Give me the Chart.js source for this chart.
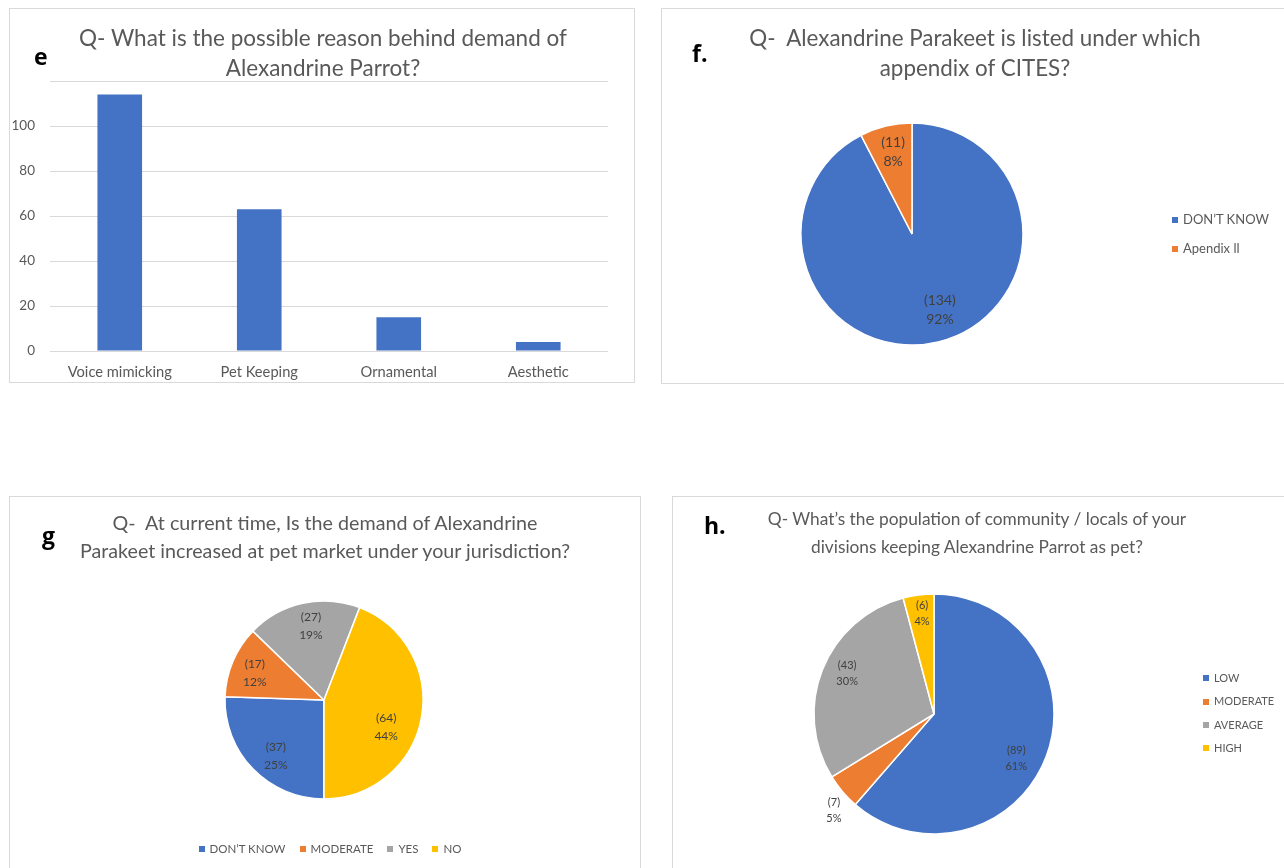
<!DOCTYPE html>
<html>
<head>
<meta charset="utf-8">
<script src="https://cdn.jsdelivr.net/npm/chart.js@4.4.1/dist/chart.umd.min.js"></script>
<style>
  body { margin: 0; width: 1284px; height: 868px; background: #fff; position: relative; overflow: hidden;
         font-family: Lato, "Open Sans", sans-serif; }
  .panel { position: absolute; border: 1px solid #d9d9d9; box-sizing: border-box; overflow: hidden; }
  canvas { position: absolute; }
  .title { position: absolute; width: 800px; text-align: center; color: #595959; white-space: pre; }
  .tag { position: absolute; font-weight: bold; color: #000; font-family: "Open Sans", Lato, sans-serif; }
  .legend { position: absolute; color: #595959; white-space: nowrap; }
  .legend .sw { display: inline-block; width: 6px; height: 6px; margin-right: 5px; vertical-align: middle; position: relative; top: -1px; }
</style>
</head>
<body>

<div class="panel" style="left:9px;top:8px;width:626px;height:375px"></div>
<div class="panel" style="left:661px;top:8px;width:640px;height:376px"></div>
<div class="panel" style="left:9px;top:496px;width:632px;height:390px"></div>
<div class="panel" style="left:672px;top:496px;width:640px;height:390px"></div>

<canvas id="chartE" width="626" height="375" style="left:9px;top:8px"></canvas>
<canvas id="chartF" width="623" height="376" style="left:661px;top:8px"></canvas>
<canvas id="chartG" width="632" height="372" style="left:9px;top:496px"></canvas>
<canvas id="chartH" width="612" height="372" style="left:672px;top:496px"></canvas>

<div class="title" style="left:-77px;top:23px;font-size:22.5px;line-height:30px">Q- What is the possible reason behind demand of
Alexandrine Parrot?</div>
<div class="title" style="left:575px;top:23px;font-size:22.4px;line-height:30px">Q-  Alexandrine Parakeet is listed under which
appendix of CITES?</div>
<div class="title" style="left:-75px;top:509px;font-size:19.7px;line-height:28px">Q-  At current time, Is the demand of Alexandrine
Parakeet increased at pet market under your jurisdiction?</div>
<div class="title" style="left:577px;top:505px;font-size:17.3px;line-height:28px">Q- What’s the population of community / locals of your
divisions keeping Alexandrine Parrot as pet?</div>

<div class="tag" style="left:34px;top:40px;font-size:23px">e</div>
<div class="tag" style="left:692px;top:37px;font-size:23px">f.</div>
<div class="tag" style="left:42px;top:519px;font-size:23px">g</div>
<div class="tag" style="left:704px;top:509px;font-size:23px">h.</div>

<div id="legendF" class="legend" style="left:1172px;top:205px;font-size:13px;line-height:29px"></div>
<div id="legendG" class="legend" style="left:5px;width:650px;text-align:center;top:840px;font-size:11.5px;line-height:18px"></div>
<div id="legendH" class="legend" style="left:1203px;top:666px;font-size:11px;line-height:23.3px"></div>

<script>
// Panel e: reasons behind demand
const reasonLabels = ["Voice mimicking", "Pet Keeping", "Ornamental", "Aesthetic"];
const reasonCounts = [114, 63, 15, 4];

// Panel f: CITES appendix awareness
const citesLabels = ["DON’T KNOW", "Apendix ll"];
const citesCounts = [134, 11];
const citesPercents = ["92%", "8%"];

// Panel g: demand increase at pet market
const demandLabels = ["DON’T KNOW", "MODERATE", "YES", "NO"];
const demandCounts = [37, 17, 27, 64];
const demandPercents = ["25%", "12%", "19%", "44%"];

// Panel h: population keeping the parrot as pet
const keepLabels = ["LOW", "MODERATE", "AVERAGE", "HIGH"];
const keepCounts = [89, 7, 43, 6];
const keepPercents = ["61%", "5%", "30%", "4%"];

const BLUE = "#4472C4", ORANGE = "#ED7D31", GRAY = "#A5A5A5", GOLD = "#FFC000";
const FONT = "Lato, 'Open Sans', sans-serif";

// Writes "(count)" and "pct" inside or beside each slice
const sliceLabels = {
  id: "sliceLabels",
  afterDatasetsDraw(chart, args, opts) {
    const ctx = chart.ctx;
    const meta = chart.getDatasetMeta(0);
    const values = chart.data.datasets[0].data;
    ctx.save();
    ctx.font = opts.size + "px " + FONT;
    ctx.fillStyle = opts.color || "#404040";
    ctx.textAlign = "center";
    ctx.textBaseline = "middle";
    meta.data.forEach((arc, i) => {
      const p = arc.getProps(["x", "y", "startAngle", "endAngle", "outerRadius"], true);
      const shift = (opts.shift ? opts.shift[i] : 0) * Math.PI / 180;
      const mid = (p.startAngle + p.endAngle) / 2 + shift;
      const rf = Array.isArray(opts.radius) ? opts.radius[i] : opts.radius;
      const r = p.outerRadius * rf;
      const cx = p.x + Math.cos(mid) * r;
      const cy = p.y + Math.sin(mid) * r;
      ctx.fillText("(" + values[i] + ")", cx, cy - opts.gap / 2);
      ctx.fillText(opts.percents[i], cx, cy + opts.gap / 2);
    });
    ctx.restore();
  }
};

function pieChart(id, labels, counts, percents, colors, geo, labelOpts) {
  const cv = document.getElementById(id);
  const bw = 1.5;
  const pad = {
    left: geo.cx - geo.r - bw / 2,
    top: geo.cy - geo.r - bw / 2,
    right: cv.width - geo.cx - geo.r - bw / 2,
    bottom: cv.height - geo.cy - geo.r - bw / 2
  };
  return new Chart(cv, {
    type: "pie",
    data: { labels: labels, datasets: [{ data: counts, backgroundColor: colors, borderColor: "#ffffff", borderWidth: bw }] },
    options: {
      responsive: false, animation: false, rotation: geo.rotation || 0,
      layout: { padding: pad },
      plugins: {
        legend: { display: false }, tooltip: { enabled: false },
        sliceLabels: Object.assign({ percents: percents }, labelOpts)
      }
    },
    plugins: [sliceLabels]
  });
}

function buildLegend(id, labels, colors, inline) {
  const el = document.getElementById(id);
  labels.forEach((t, i) => {
    const item = document.createElement(inline ? "span" : "div");
    if (inline) item.style.margin = "0 7px";
    const sw = document.createElement("span");
    sw.className = "sw";
    sw.style.background = colors[i];
    item.appendChild(sw);
    item.appendChild(document.createTextNode(t));
    el.appendChild(item);
  });
}

// e: bar chart
new Chart(document.getElementById("chartE"), {
  type: "bar",
  data: {
    labels: reasonLabels,
    datasets: [{ data: reasonCounts, backgroundColor: BLUE, barPercentage: 0.32, categoryPercentage: 1 }]
  },
  options: {
    responsive: false, animation: false,
    layout: { padding: { left: 0, right: 27, top: 73, bottom: 0 } },
    plugins: { legend: { display: false }, tooltip: { enabled: false } },
    scales: {
      x: {
        grid: { display: false, drawTicks: false },
        border: { display: false },
        ticks: { color: "#595959", font: { family: FONT, size: 14.7 }, padding: 12 },
        afterFit(s) { s.height = 32; }
      },
      y: {
        min: 0, max: 120,
        grid: { color: "#d9d9d9", drawTicks: false },
        border: { display: false },
        ticks: { stepSize: 20, color: "#595959", font: { family: FONT, size: 13.5 }, padding: 15,
                 callback: v => (v === 120 ? "" : v) },
        afterFit(s) { s.width = 41; }
      }
    }
  }
});

// f: CITES pie (canvas origin 661,8)
pieChart("chartF", citesLabels, citesCounts, citesPercents, [BLUE, ORANGE],
  { cx: 251, cy: 226, r: 111, rotation: 0 },
  { size: 14, gap: 19, radius: [0.73, 0.755], shift: [-6.5, 0.6] });
buildLegend("legendF", citesLabels, [BLUE, ORANGE], false);

// g: demand pie (canvas origin 9,496)
pieChart("chartG", demandLabels, demandCounts, demandPercents, [BLUE, ORANGE, GRAY, GOLD],
  { cx: 315, cy: 204, r: 99, rotation: 180 },
  { size: 12, gap: 18, radius: [0.75, 0.75, 0.76, 0.685], shift: [-5.5, -1.6, 2.4, 13] });
buildLegend("legendG", demandLabels, [BLUE, ORANGE, GRAY, GOLD], true);

// h: population pie (canvas origin 672,496)
pieChart("chartH", keepLabels, keepCounts, keepPercents, [BLUE, ORANGE, GRAY, GOLD],
  { cx: 262, cy: 218, r: 120, rotation: 0 },
  { size: 11, gap: 16, radius: [0.78, 1.16, 0.8, 0.845], shift: [8, -3.7, 3.5, 0.7] });
buildLegend("legendH", keepLabels, [BLUE, ORANGE, GRAY, GOLD], false);
</script>
</body>
</html>
